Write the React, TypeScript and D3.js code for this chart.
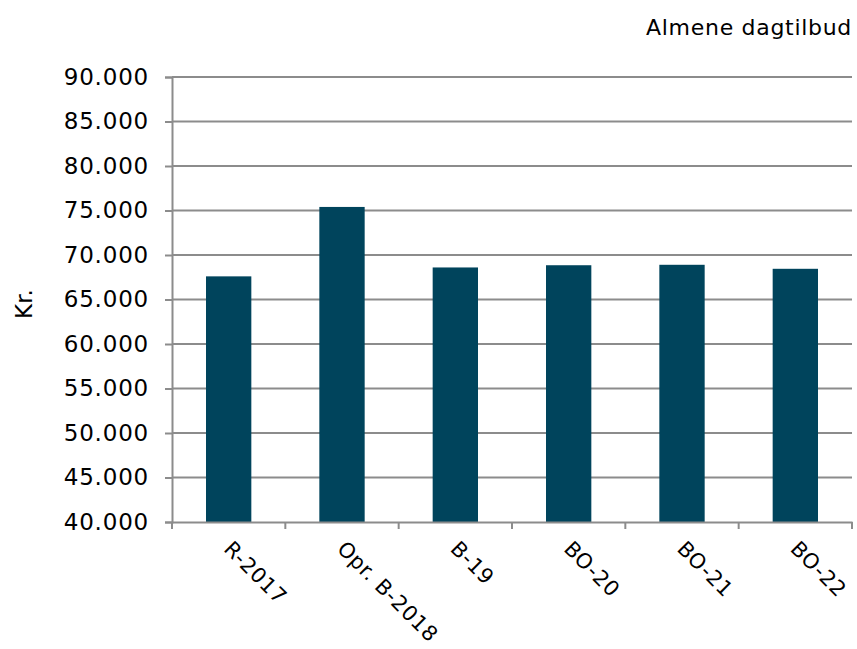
import * as d3 from "d3";
import { useEffect, useRef } from "react";

const categories = ["R-2017", "Opr. B-2018", "B-19", "BO-20", "BO-21", "BO-22"];
const values = [67600, 75400, 68600, 68850, 68900, 68450];
const yTicks = [40000, 45000, 50000, 55000, 60000, 65000, 70000, 75000, 80000, 85000, 90000];

const width = 857,
  height = 649,
  marginTop = 77,
  marginRight = 5,
  marginBottom = 127,
  marginLeft = 172;

const font = "'DejaVu Sans', Verdana, sans-serif";
const fmt = (v: number) => d3.format(",")(v).replace(/,/g, ".");

export default function App() {
  const ref = useRef<SVGSVGElement | null>(null);

  useEffect(() => {
    if (!ref.current) return;
    const svg = d3.select(ref.current);
    svg.selectAll("*").remove();

    const x = d3
      .scaleBand()
      .domain(categories)
      .range([marginLeft, width - marginRight])
      .paddingInner(0.6)
      .paddingOuter(0.3);
    const xb = d3.scaleBand().domain(categories).range([marginLeft, width - marginRight]);
    const y = d3.scaleLinear([40000, 90000], [height - marginBottom, marginTop]);

    // grid lines
    svg
      .append("g")
      .selectAll("line")
      .data(yTicks.slice(1))
      .join("line")
      .attr("x1", marginLeft)
      .attr("x2", width - marginRight)
      .attr("y1", (d) => y(d))
      .attr("y2", (d) => y(d))
      .attr("stroke", "#8c8c8c")
      .attr("stroke-width", 2);

    // bars
    svg
      .append("g")
      .selectAll("rect")
      .data(values)
      .join("rect")
      .attr("x", (_, i) => x(categories[i])!)
      .attr("width", x.bandwidth())
      .attr("y", (d) => y(d))
      .attr("height", (d) => y(40000) - y(d))
      .attr("fill", "#00445c");

    // y axis
    const ya = svg
      .append("g")
      .attr("transform", `translate(${marginLeft},0)`)
      .call(d3.axisLeft(y).tickValues(yTicks).tickSize(7).tickPadding(16).tickFormat((d) => fmt(+d)));
    ya.selectAll("path,line").attr("stroke", "#8c8c8c").attr("stroke-width", 2);
    ya.selectAll("text")
      .attr("font-family", font)
      .attr("font-size", 23)
      .attr("letter-spacing", 0.8)
      .attr("fill", "#000");

    // x axis
    const xa = svg
      .append("g")
      .attr("transform", `translate(0,${height - marginBottom})`)
      .call(d3.axisBottom(xb).tickSize(0).tickFormat(() => ""));
    xa.select(".domain").attr("stroke", "#8c8c8c").attr("stroke-width", 2);
    xa.selectAll(".tick").remove();
    const edges = [...categories.map((c) => xb(c)!), width - marginRight];
    xa.selectAll("line.edge")
      .data(edges)
      .join("line")
      .attr("class", "edge")
      .attr("x1", (d) => d)
      .attr("x2", (d) => d)
      .attr("y1", 0)
      .attr("y2", 7)
      .attr("stroke", "#8c8c8c")
      .attr("stroke-width", 2);
    xa.selectAll("text.lbl")
      .data(categories)
      .join("text")
      .attr("class", "lbl")
      .attr("transform", (d) => `translate(${xb(d)! + xb.bandwidth() / 2 - 6},${28}) rotate(45)`)
      .attr("text-anchor", "start")
      .attr("font-family", font)
      .attr("font-size", 21)
      .attr("letter-spacing", 0.6)
      .attr("fill", "#000")
      .text((d) => d);

    // y label
    svg
      .append("text")
      .attr("transform", `translate(32,304) rotate(-90)`)
      .attr("text-anchor", "middle")
      .attr("font-family", font)
      .attr("font-size", 23)
      .text("Kr.");

    // title
    svg
      .append("text")
      .attr("x", 852)
      .attr("y", 35)
      .attr("text-anchor", "end")
      .attr("font-family", font)
      .attr("font-size", 22)
      .attr("letter-spacing", 0.7)
      .text("Almene dagtilbud");
  }, []);

  return (
    <svg
      ref={ref}
      width={width}
      height={height}
      style={{ position: "absolute", left: 0, top: 0, background: "#fff" }}
    />
  );
}
